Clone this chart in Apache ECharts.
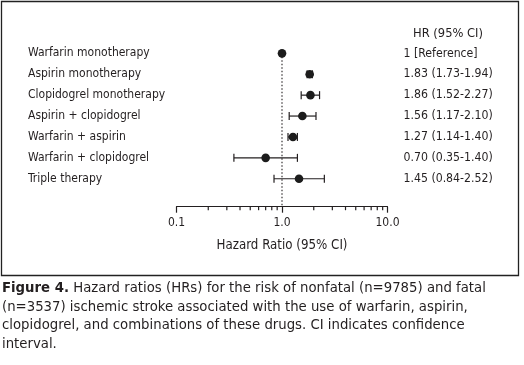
<!DOCTYPE html>
<html><head><meta charset="utf-8">
<script src="https://cdn.jsdelivr.net/npm/echarts@6/dist/echarts.min.js"></script>
<style>html,body{margin:0;padding:0;background:#fff}#c{width:524px;height:365px}</style>
</head><body><div id="c"></div>
<script>
// ---- data ----
const categories = ['Warfarin monotherapy', 'Aspirin monotherapy', 'Clopidogrel monotherapy', 'Aspirin + clopidogrel', 'Warfarin + aspirin', 'Warfarin + clopidogrel', 'Triple therapy'];
const hr = [1, 1.83, 1.86, 1.56, 1.27, 0.70, 1.45];
const ciLow = [null, 1.73, 1.52, 1.17, 1.14, 0.35, 0.84];
const ciHigh = [null, 1.94, 2.27, 2.10, 1.40, 1.40, 2.52];
const hrLabels = ['1 [Reference]', '1.83 (1.73-1.94)', '1.86 (1.52-2.27)', '1.56 (1.17-2.10)', '1.27 (1.14-1.40)', '0.70 (0.35-1.40)', '1.45 (0.84-2.52)'];
const xTickValues = [0.1, 1, 10];
const xTickLabels = ['0.1', '1.0', '10.0'];
const minorTickValues = [0.2, 0.3, 0.4, 0.5, 0.6, 0.7, 0.8, 0.9, 2, 3, 4, 5, 6, 7, 8, 9];
const headerText = 'HR (95% CI)';
const axisTitle = 'Hazard Ratio (95% CI)';
const captionBold = 'Figure 4.';
const captionLines = [
  ' Hazard ratios (HRs) for the risk of nonfatal (n=9785) and fatal',
  '(n=3537) ischemic stroke associated with the use of warfarin, aspirin,',
  'clopidogrel, and combinations of these drugs. CI indicates confidence',
  'interval.'
];

// ---- style ----
const FONT = '"Liberation Sans Narrow", "DejaVu Sans Condensed", "Arial Narrow", sans-serif';
const INK = '#231f20';
const AXIS_OFFSET = 17.5;

const chart = echarts.init(document.getElementById('c'), null, {renderer: 'canvas'});

const forestData = hr.map((v, i) => [v, i, ciLow[i], ciHigh[i]]);

const option = {
  animation: false,
  backgroundColor: '#fff',
  textStyle: {fontFamily: FONT, color: INK},
  grid: {left: 176.5, width: 211, top: 42.9, height: 146.3},
  xAxis: {
    type: 'log', logBase: 10, min: 0.1, max: 10,
    offset: AXIS_OFFSET,
    axisLine: {show: true, lineStyle: {color: INK, width: 1.2}},
    axisTick: {show: true, length: 6, lineStyle: {color: INK, width: 1.2}},
    axisLabel: {
      margin: 10, fontSize: 12, color: INK, fontFamily: FONT,
      formatter: v => {
        const k = xTickValues.findIndex(t => Math.abs(Math.log10(t) - Math.log10(v)) < 1e-6);
        return k >= 0 ? xTickLabels[k] : '';
      }
    },
    splitLine: {show: false},
    name: axisTitle, nameLocation: 'middle', nameGap: 32,
    nameTextStyle: {fontSize: 13.2, color: INK, fontFamily: FONT}
  },
  yAxis: [{
    type: 'category', data: categories, inverse: true, position: 'left',
    axisLine: {show: false}, axisTick: {show: false}, splitLine: {show: false},
    axisLabel: {align: 'left', margin: 148.5, fontSize: 12, color: INK, fontFamily: FONT}
  }, {
    type: 'category', data: hrLabels, inverse: true, position: 'right',
    axisLine: {show: false}, axisTick: {show: false}, splitLine: {show: false},
    axisLabel: {align: 'left', margin: 16, fontSize: 12.2, color: INK, fontFamily: FONT}
  }],
  series: [{
    type: 'custom',
    name: 'forest',
    clip: false,
    data: forestData,
    encode: {x: 0, y: 1},
    renderItem: (params, api) => {
      const idx = api.value(1);
      const c = api.coord([api.value(0), idx]);
      const lo = api.value(2), hi = api.value(3);
      const children = [];
      const cap = 4;
      if (lo != null && !isNaN(lo) && hi != null && !isNaN(hi)) {
        const pl = api.coord([lo, idx]);
        const ph = api.coord([hi, idx]);
        const st = {stroke: INK, lineWidth: 1.2, fill: null};
        children.push({type: 'line', shape: {x1: pl[0], y1: c[1], x2: ph[0], y2: c[1]}, style: st});
        children.push({type: 'line', shape: {x1: pl[0], y1: c[1] - cap, x2: pl[0], y2: c[1] + cap}, style: st});
        children.push({type: 'line', shape: {x1: ph[0], y1: c[1] - cap, x2: ph[0], y2: c[1] + cap}, style: st});
      } else {
        const cs = params.coordSys;
        const yb = cs.y + cs.height + AXIS_OFFSET;
        children.push({type: 'line', shape: {x1: c[0], y1: c[1], x2: c[0], y2: yb},
          style: {stroke: INK, lineWidth: 1.1, lineDash: [1.5, 2], fill: null}});
      }
      children.push({type: 'circle', shape: {cx: c[0], cy: c[1], r: 4.3}, style: {fill: '#1c1c1c'}});
      return {type: 'group', children};
    }
  }, {
    type: 'custom',
    name: 'minorTicks',
    clip: false,
    data: minorTickValues.map(v => [v]),
    encode: {x: 0},
    renderItem: (params, api) => {
      const p = api.coord([api.value(0), 0]);
      const cs = params.coordSys;
      const yb = cs.y + cs.height + AXIS_OFFSET;
      return {type: 'line', shape: {x1: p[0], y1: yb, x2: p[0], y2: yb + 3.5},
        style: {stroke: INK, lineWidth: 1.2}};
    }
  }],
  graphic: [
    {type: 'rect', shape: {x: 1.5, y: 1.5, width: 517, height: 274},
      style: {fill: null, stroke: '#222', lineWidth: 1.3}},
    {type: 'text', x: 448, y: 33.5,
      style: {text: headerText, fontSize: 12.8, fontFamily: FONT, fill: INK, align: 'center', verticalAlign: 'middle'}},
    {type: 'text', x: 2, y: 279,
      style: {
        text: '{b|' + captionBold + '}' + captionLines.join('\n'),
        fontSize: 14.75, fontFamily: FONT, fill: INK, lineHeight: 18.5,
        align: 'left', verticalAlign: 'top',
        rich: {b: {fontWeight: 'bold', fontSize: 14.75, fontFamily: FONT, fill: INK, lineHeight: 18.5}}
      }}
  ]
};
chart.setOption(option);
</script>
</body></html>
